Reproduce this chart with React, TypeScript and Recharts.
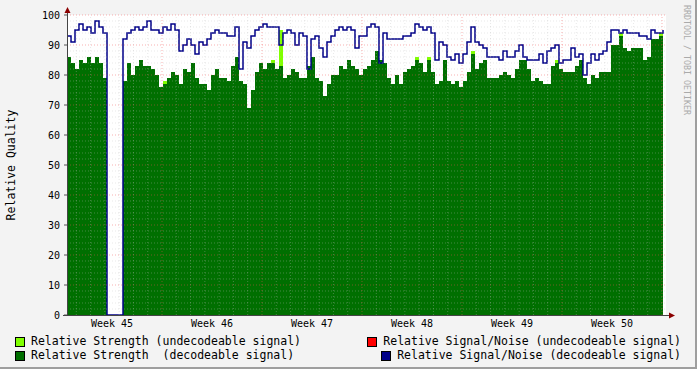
import React from "react";
import { ComposedChart, Area, Line, XAxis, YAxis, ReferenceLine, CartesianGrid } from "recharts";

// time axis in weeks: sample every ~6.7h from the left edge of the plot
const START_WEEK = 45.05;
const END_WEEK = 51.04;
const STEP_WEEK = 0.04;

const weekLabels = ["Week 45", "Week 46", "Week 47", "Week 48", "Week 49", "Week 50"];
const weekCenters = [45.5, 46.5, 47.5, 48.5, 49.5, 50.5];
const yTicks = [0, 10, 20, 30, 40, 50, 60, 70, 80, 90, 100];

// Relative Signal/Noise (decodeable)
const snrDecodeable = [
  93, 91, 95, 97, 95, 96, 94, 98, 96, 94,
  0, 0, 0, 0, 92, 94, 95, 96, 95, 96,
  98, 95, 95, 94, 96, 95, 97, 95, 88, 90,
  92, 90, 87, 91, 90, 92, 94, 95, 94, 94,
  93, 93, 96, 82, 91, 89, 93, 95, 96, 97,
  96, 96, 96, 90, 94, 95, 94, 90, 94, 93,
  82, 92, 93, 89, 86, 91, 93, 95, 96, 95,
  96, 95, 89, 93, 93, 96, 97, 96, 84, 94,
  92, 92, 92, 92, 93, 93, 94, 97, 96, 95,
  96, 94, 85, 91, 90, 86, 85, 87, 84, 87,
  91, 96, 91, 90, 89, 86, 86, 86, 85, 88,
  86, 86, 88, 90, 86, 85, 85, 85, 87, 84,
  88, 89, 90, 84, 85, 85, 89, 86, 87, 80,
  84, 87, 85, 87, 88, 91, 95, 95, 94, 95,
  94, 94, 94, 93, 93, 92, 95, 94, 94, 95,
];

// Relative Strength (decodeable)
const strengthDecodeable = [
  86, 84, 82, 85, 84, 86, 84, 86, 84, 79,
  0, 0, 0, 0, 78, 84, 80, 83, 85, 83,
  83, 82, 80, 76, 77, 79, 81, 80, 77, 82,
  81, 84, 79, 77, 77, 75, 80, 82, 79, 79,
  78, 83, 86, 78, 77, 69, 75, 81, 84, 82,
  84, 84, 82, 83, 79, 80, 82, 81, 79, 79,
  83, 86, 79, 78, 73, 77, 80, 80, 83, 82,
  85, 83, 82, 80, 82, 83, 85, 88, 85, 84,
  79, 77, 80, 77, 81, 82, 83, 85, 84, 81,
  85, 81, 77, 78, 85, 78, 77, 78, 76, 78,
  81, 87, 82, 84, 85, 79, 79, 79, 80, 81,
  80, 79, 82, 85, 85, 82, 78, 79, 78, 77,
  77, 83, 84, 82, 81, 81, 81, 83, 85, 79,
  77, 80, 79, 81, 81, 81, 90, 90, 93, 89,
  88, 89, 89, 89, 85, 86, 92, 92, 93, 89,
];

// Relative Strength (undecodeable), stacked on top
const strengthUndecodeable = [
  0, 0, 0, 0, 0, 0, 0, 0, 0, 0,
  0, 0, 0, 0, 0, 0, 0, 0, 0, 0,
  0, 0, 0, 0, 1, 0, 0, 0, 0, 0,
  0, 0, 0, 0, 0, 0, 0, 0, 0, 0,
  0, 0, 0, 0, 0, 0, 0, 0, 0, 0,
  0, 1, 0, 12, 0, 0, 0, 0, 0, 0,
  0, 0, 0, 0, 0, 0, 0, 0, 0, 0,
  0, 0, 0, 0, 0, 0, 0, 0, 0, 0,
  0, 0, 0, 0, 0, 0, 0, 1, 0, 0,
  1, 0, 0, 0, 0, 0, 0, 0, 0, 0,
  0, 1, 0, 0, 0, 0, 0, 0, 0, 0,
  0, 0, 0, 0, 0, 0, 0, 0, 0, 0,
  0, 0, 1, 0, 0, 0, 0, 0, 0, 0,
  0, 0, 0, 0, 0, 0, 0, 0, 1, 0,
  0, 0, 0, 0, 0, 0, 0, 0, 1, 0,
];

const data = snrDecodeable.map((snr, i) => ({
  t: START_WEEK + i * STEP_WEEK,
  snr,
  str: strengthDecodeable[i],
  strU: strengthUndecodeable[i],
}));

// grid: minor every day / every 2 units, major every week / every 10 units
const dayLines: number[] = [];
for (let d = 1; d <= 42; d++) {
  const w = 45 + d / 7;
  if (w > START_WEEK && w < END_WEEK && d % 7 !== 0) dayLines.push(w);
}
const weekLines = [46, 47, 48, 49, 50, 51];
const minorY: number[] = [];
for (let v = 2; v < 100; v += 2) if (v % 10 !== 0) minorY.push(v);
const majorY = [10, 20, 30, 40, 50, 60, 70, 80, 90, 100];

const FONT = "'DejaVu Sans Mono', monospace";
const MINOR = "rgba(190,190,190,0.35)";
const MAJOR = "rgba(240,80,80,0.45)";
const DARK_GREEN = "#006f00";
const NAVY = "#000088";

const legendItems = [
  { color: "#80ff00", label: "Relative Strength (undecodeable signal)", left: 15, top: 335 },
  { color: DARK_GREEN, label: "Relative Strength  (decodeable signal)", left: 15, top: 349 },
  { color: "#ff0000", label: "Relative Signal/Noise (undecodeable signal)", right: 16, top: 335 },
  { color: NAVY, label: "Relative Signal/Noise (decodeable signal)", right: 16, top: 349 },
];

export default function App() {
  return (
    <div style={{ position: "absolute", left: 0, top: 0, width: 697, height: 369, background: "#f3f3f3", fontFamily: FONT, overflow: "hidden" }}>
      <ComposedChart width={697} height={369} data={data} margin={{ top: 15, right: 31, bottom: 24, left: 0 }}>
        <CartesianGrid fill="#ffffff" horizontal={false} vertical={false} />
        <XAxis
          dataKey="t"
          type="number"
          domain={[START_WEEK, END_WEEK]}
          ticks={weekCenters}
          tickFormatter={(v: number) => weekLabels[weekCenters.indexOf(v)] ?? ""}
          tick={{ fill: "#000", fontSize: 10, fontFamily: FONT }}
          tickLine={false}
          tickSize={0}
          tickMargin={5}
          height={30}
          axisLine={false}
          allowDataOverflow
        />
        <YAxis
          type="number"
          domain={[0, 100]}
          ticks={yTicks}
          width={67}
          tick={{ fill: "#000", fontSize: 10, fontFamily: FONT }}
          tickSize={3}
          tickMargin={4}
          tickLine={{ stroke: "#555" }}
          axisLine={false}
          interval={0}
        />
        <Area type="stepAfter" dataKey="str" stackId="s" fill={DARK_GREEN} fillOpacity={1} stroke="none" isAnimationActive={false} />
        <Area type="stepAfter" dataKey="strU" stackId="s" fill="#80ff00" fillOpacity={1} stroke="none" isAnimationActive={false} />
        <Line type="stepAfter" dataKey="snr" stroke={NAVY} strokeWidth={1.5} dot={false} isAnimationActive={false} />
      </ComposedChart>

      {/* grid drawn over the data, same plot box as the chart beneath */}
      <div style={{ position: "absolute", left: 0, top: 0, pointerEvents: "none" }}>
        <ComposedChart width={697} height={369} data={data} margin={{ top: 15, right: 31, bottom: 54, left: 67 }}>
          <XAxis dataKey="t" type="number" domain={[START_WEEK, END_WEEK]} hide allowDataOverflow />
          <YAxis type="number" domain={[0, 100]} hide allowDataOverflow />
          {dayLines.map((w) => (
            <ReferenceLine key={"d" + w} x={w} stroke={MINOR} strokeDasharray="1 2" />
          ))}
          {minorY.map((v) => (
            <ReferenceLine key={"m" + v} y={v} stroke={MINOR} strokeDasharray="1 2" />
          ))}
          {weekLines.map((w) => (
            <ReferenceLine key={"w" + w} x={w} stroke={MAJOR} strokeDasharray="1 2" />
          ))}
          {majorY.map((v) => (
            <ReferenceLine key={"M" + v} y={v} stroke={MAJOR} strokeDasharray="1 2" />
          ))}
          <Line dataKey="snr" stroke="none" dot={false} activeDot={false} isAnimationActive={false} />
        </ComposedChart>
      </div>

      {/* axes with arrows, rrdtool style */}
      <svg width={697} height={369} style={{ position: "absolute", left: 0, top: 0, pointerEvents: "none" }}>
        <line x1={67.5} y1={316} x2={67.5} y2={10} stroke="#444" strokeWidth={1} />
        <line x1={63} y1={315.5} x2={670} y2={315.5} stroke="#444" strokeWidth={1} />
        <polygon points="64.5,13 70.5,13 67.5,7" fill="#8b0000" />
        <polygon points="669,312.5 669,318.5 675,315.5" fill="#8b0000" />
        <text x={0} y={0} transform="translate(15,165) rotate(-90)" textAnchor="middle" fontSize={11.5} fontFamily={FONT} fill="#000">
          Relative Quality
        </text>
        <text x={0} y={0} transform="translate(684,5) rotate(90)" textAnchor="start" fontSize={8.3} fontFamily={FONT} fill="#aaa">
          RRDTOOL / TOBI OETIKER
        </text>
        <rect x={695} y={0} width={2} height={369} fill="#9e9e9e" />
        <rect x={0} y={367} width={697} height={2} fill="#9e9e9e" />
      </svg>

      {legendItems.map((it) => (
        <div
          key={it.label}
          style={{
            position: "absolute",
            top: it.top,
            left: it.left,
            right: it.right,
            display: "flex",
            alignItems: "center",
            fontSize: 11.5,
            lineHeight: "13px",
            whiteSpace: "pre",
            color: "#000",
          }}
        >
          <span style={{ width: 8, height: 8, background: it.color, border: "1px solid #000", marginRight: 6 }} />
          {it.label}
        </div>
      ))}
    </div>
  );
}
